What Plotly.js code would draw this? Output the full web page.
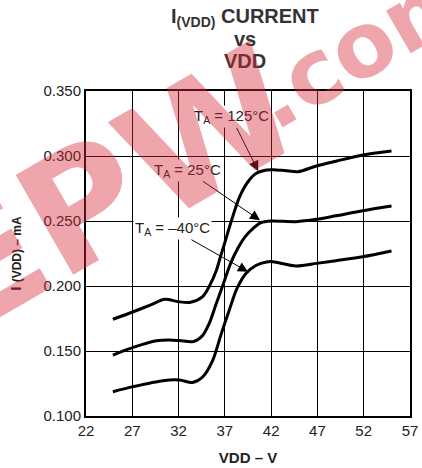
<!DOCTYPE html>
<html>
<head>
<meta charset="utf-8">
<script src="https://cdn.plot.ly/plotly-3.0.1.min.js"></script>
<style>html,body{margin:0;padding:0;background:#fff;}#chart{width:422px;height:468px;}</style>
</head>
<body>
<div id="chart"></div>
<script>
// T_A = 125°C
const vdd125 = [24.9, 27.1, 29.0, 30.5, 32.0, 33.3, 34.6, 35.3, 36.1, 36.5, 37.0, 37.7, 38.6, 39.5, 40.4, 41.5, 42.2, 43.5, 44.9, 46.9, 49.0, 51.9, 55.0];
const i125   = [0.1744, 0.1802, 0.1855, 0.1898, 0.1879, 0.1875, 0.1918, 0.1995, 0.2123, 0.2220, 0.2335, 0.2500, 0.2687, 0.2802, 0.2867, 0.2892, 0.2895, 0.2888, 0.2879, 0.2923, 0.2960, 0.3008, 0.3038];
// T_A = 25°C
const vdd25 = [24.9, 27.1, 29.6, 31.0, 32.1, 33.6, 34.6, 35.3, 36.0, 36.8, 37.6, 38.4, 39.2, 40.0, 40.9, 42.0, 44.7, 46.9, 49.0, 51.9, 55.0];
const i25   = [0.1469, 0.1528, 0.1579, 0.1585, 0.1580, 0.1572, 0.1620, 0.1710, 0.1850, 0.2010, 0.2170, 0.2290, 0.2380, 0.2440, 0.2487, 0.2500, 0.2495, 0.2513, 0.2540, 0.2579, 0.2615];
// T_A = -40°C
const vddM40 = [24.9, 27.1, 30.3, 32.1, 33.5, 34.6, 35.7, 36.6, 37.5, 38.3, 39.3, 40.4, 41.5, 42.2, 44.7, 46.9, 49.0, 51.9, 55.0];
const iM40   = [0.1187, 0.1226, 0.1272, 0.1277, 0.1258, 0.1300, 0.1430, 0.1630, 0.1820, 0.1980, 0.2098, 0.2160, 0.2185, 0.2187, 0.2154, 0.2174, 0.2195, 0.2225, 0.2269];

const seriesLabels = ['T<sub>A</sub> = 125°C', 'T<sub>A</sub> = 25°C', 'T<sub>A</sub> = –40°C'];
// arrow tip points on each curve (VDD, current)
const arrowTipVdd = [40.6, 40.8, 39.5];
const arrowTipI   = [0.2885, 0.2505, 0.2110];

const titleLines = ['I<sub>(VDD)</sub> CURRENT', 'vs', 'VDD'];
const xTitle = 'VDD – V';
const yTitle = 'I <span style="font-size:12px">(VDD) – mA</span>';
const xTicks = [22, 27, 32, 37, 42, 47, 52, 57];
const yTicks = [0.100, 0.150, 0.200, 0.250, 0.300, 0.350];

const FONT = 'Liberation Sans, Arial, Helvetica, sans-serif';
const WM_FONT = 'DejaVu Sans, Liberation Sans, sans-serif';

function curve(x, y) {
  return {x: x, y: y, type: 'scatter', mode: 'lines',
    line: {color: '#000', width: 3, shape: 'spline', smoothing: 0.8},
    showlegend: false, hoverinfo: 'skip'};
}

const data = [curve(vdd125, i125), curve(vdd25, i25), curve(vddM40, iM40)];

const arrowOffsets = [[-27, -54], [-73, -50], [-76, -43]];
const annotations = [];
seriesLabels.forEach((t, k) => {
  annotations.push({
    x: arrowTipVdd[k], y: arrowTipI[k], xref: 'x', yref: 'y',
    text: t, showarrow: true, arrowhead: 2, arrowsize: 2, arrowwidth: 1, arrowcolor: '#000',
    ax: arrowOffsets[k][0], ay: arrowOffsets[k][1], standoff: 0,
    bgcolor: '#fff', borderpad: 1,
    font: {family: FONT, size: 15, color: '#222'}
  });
});
const titleY = [1.226, 1.160, 1.093];
titleLines.forEach((t, k) => {
  annotations.push({
    x: 0.49, y: titleY[k], xref: 'paper', yref: 'paper', xanchor: 'center', yanchor: 'middle',
    text: '<b>' + t + '</b>', showarrow: false,
    font: {family: FONT, size: 20, color: '#333'}
  });
});
// watermark
annotations.push({x: 0.08, y: 0.70, xref: 'paper', yref: 'paper', xanchor: 'center', yanchor: 'middle',
  text: '<b>EPW</b>', showarrow: false,
  textangle: -30, font: {family: WM_FONT, size: 158, color: 'rgba(215,40,55,0.42)'}});
annotations.push({x: 0.86, y: 1.145, xref: 'paper', yref: 'paper', xanchor: 'center', yanchor: 'middle',
  text: '<b>.com</b>', showarrow: false,
  textangle: -30, font: {family: WM_FONT, size: 90, color: 'rgba(215,40,55,0.42)'}});

const layout = {
  width: 422, height: 468,
  margin: {l: 86, r: 12, t: 91, b: 52},
  paper_bgcolor: '#fff', plot_bgcolor: '#fff',
  font: {family: FONT, size: 15, color: '#222'},
  xaxis: {
    range: [22, 57], tickvals: xTicks, ticktext: xTicks.map(String),
    showgrid: true, gridcolor: '#000', gridwidth: 1,
    showline: true, linecolor: '#000', linewidth: 2, mirror: true,
    zeroline: false, ticks: '',
    tickfont: {family: FONT, size: 15, color: '#222'},
    title: {text: '<b>' + xTitle + '</b>', font: {family: FONT, size: 15, color: '#222'}, standoff: 14}
  },
  yaxis: {
    range: [0.1, 0.35], tickvals: yTicks, ticktext: yTicks.map(v => v.toFixed(3)),
    showgrid: true, gridcolor: '#000', gridwidth: 1,
    showline: true, linecolor: '#000', linewidth: 2, mirror: true,
    zeroline: false, ticks: '',
    tickfont: {family: FONT, size: 15, color: '#222'},
    title: {text: '<b>' + yTitle + '</b>', font: {family: FONT, size: 15, color: '#222'}, standoff: 18}
  },
  annotations: annotations,
  showlegend: false
};

Plotly.newPlot('chart', data, layout, {displayModeBar: false, staticPlot: true});
</script>
</body>
</html>
